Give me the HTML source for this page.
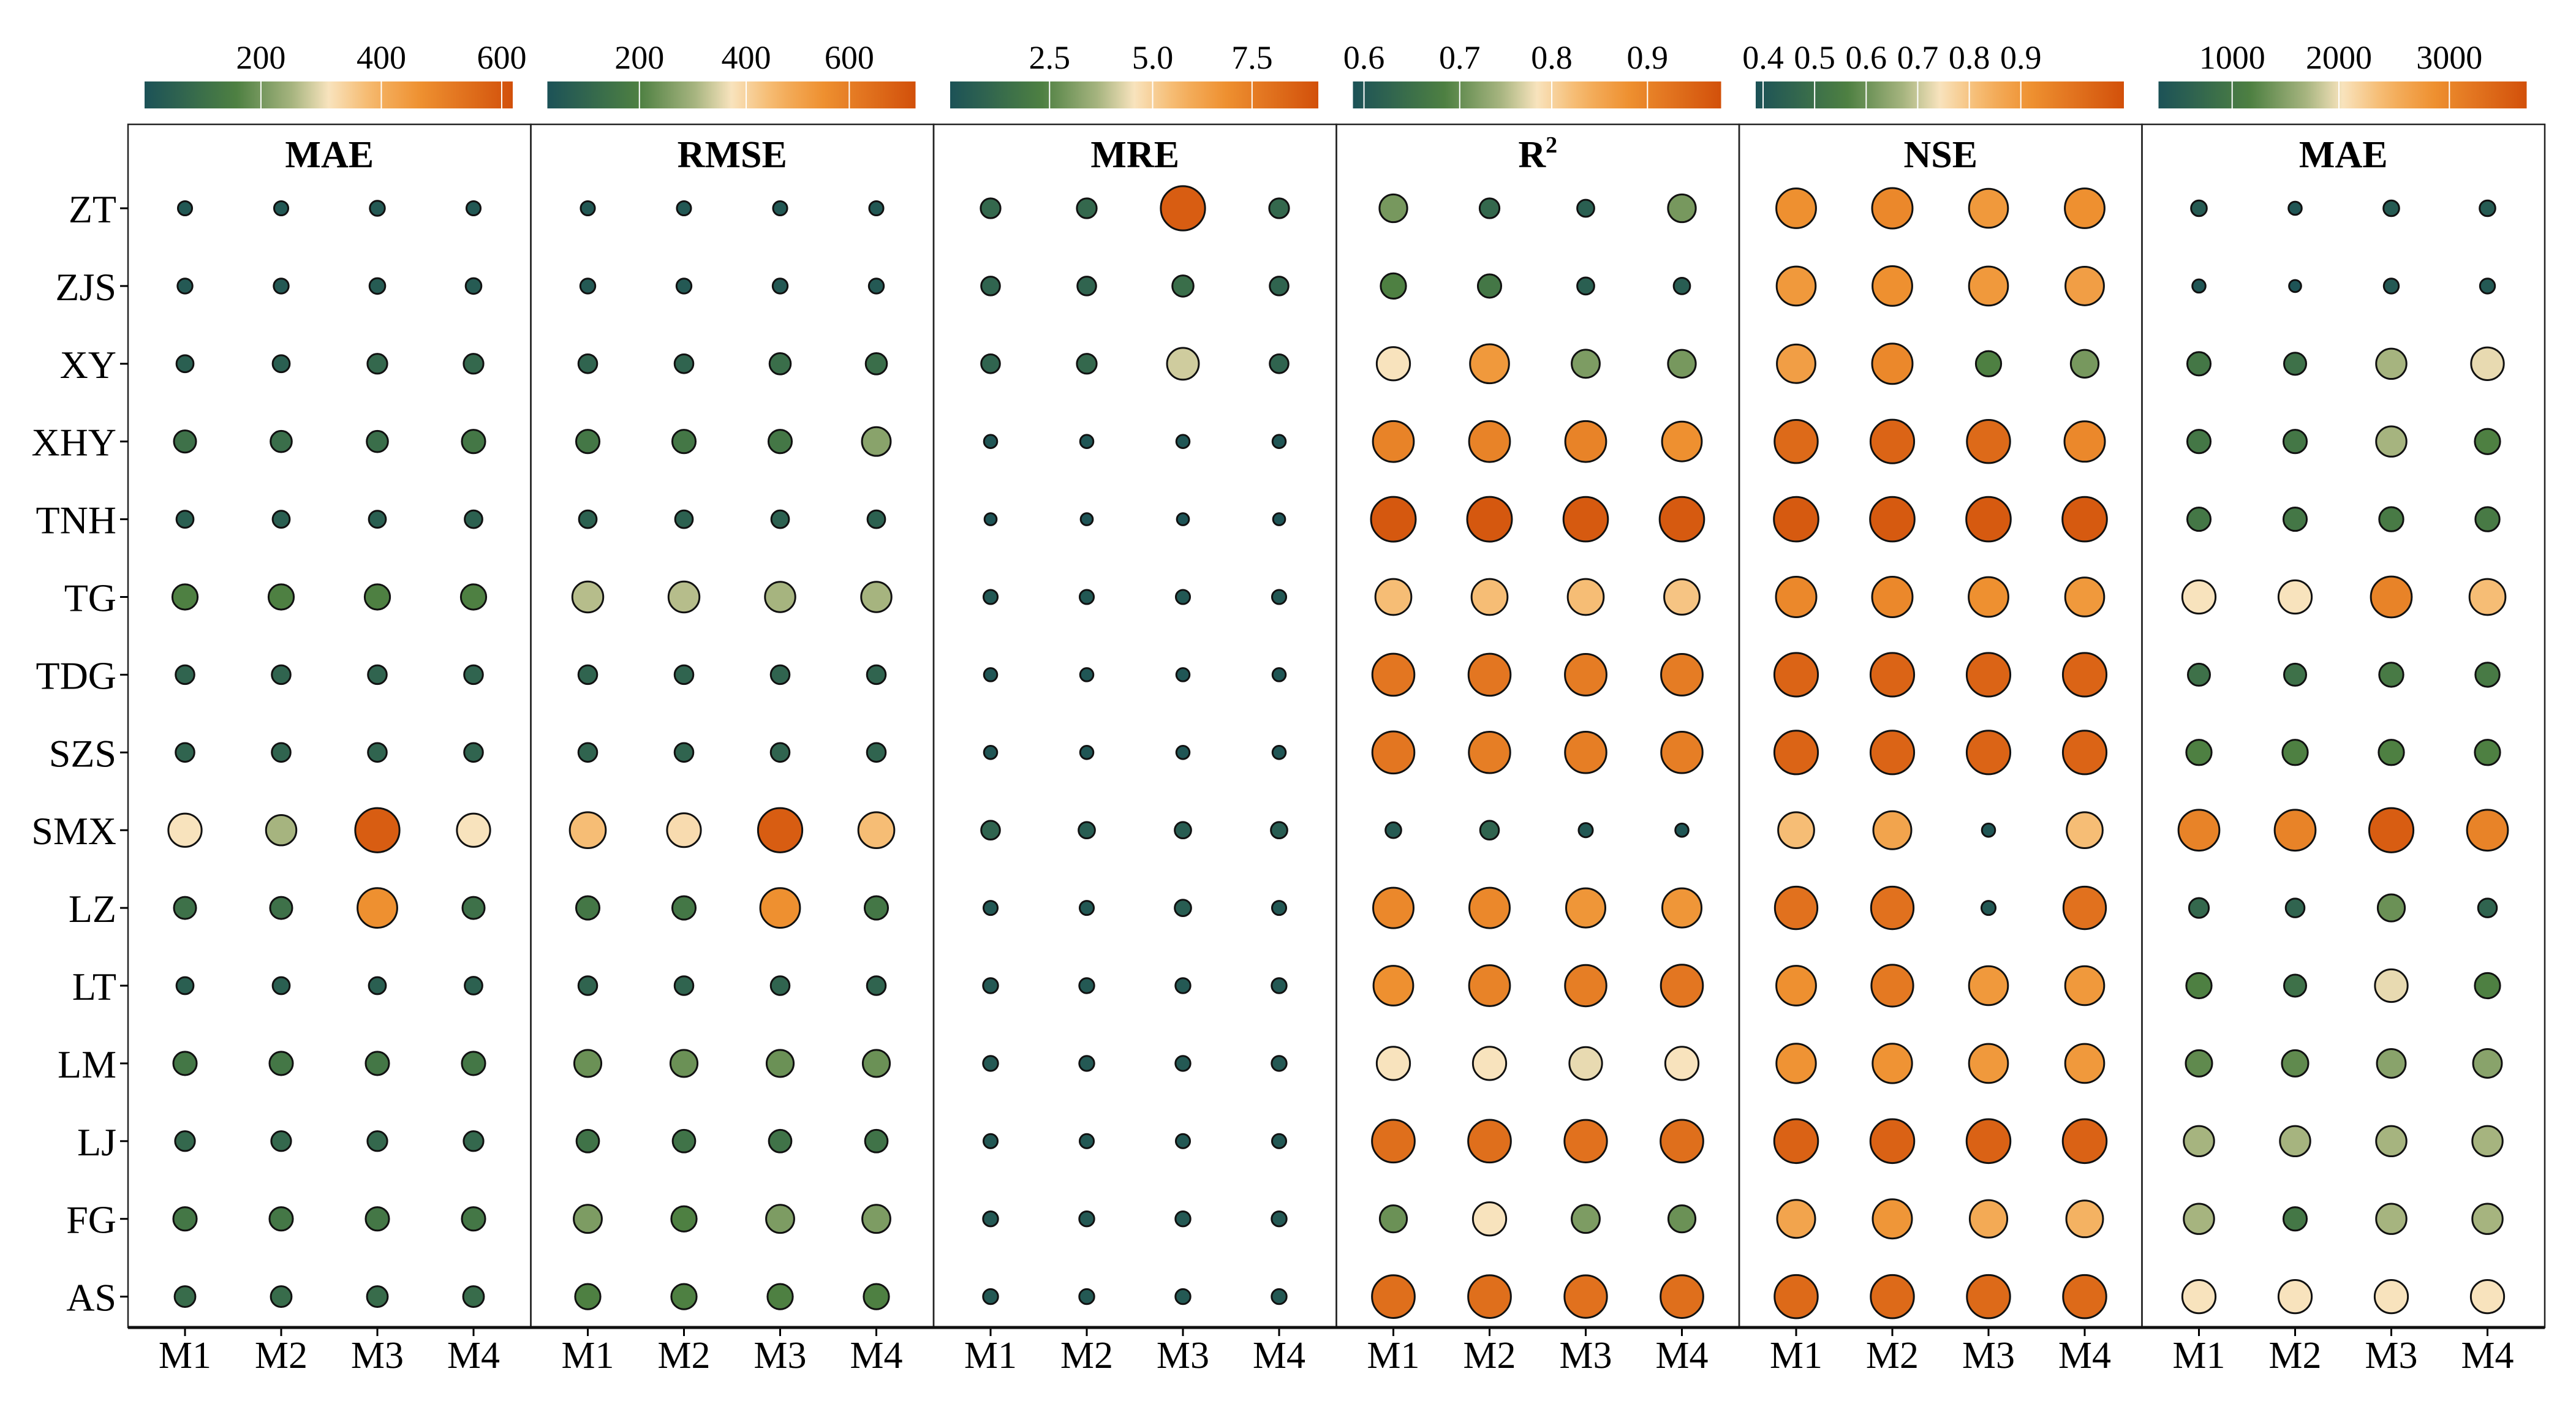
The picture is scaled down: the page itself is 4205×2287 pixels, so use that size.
<!DOCTYPE html>
<html><head><meta charset="utf-8"><style>html,body{margin:0;padding:0;background:#fff}svg{display:block}</style></head>
<body>
<svg id="s" xmlns="http://www.w3.org/2000/svg" width="4205" height="2287" viewBox="0 0 4205 2287" font-family="Liberation Serif, serif"></svg>
<script>
const NS="http://www.w3.org/2000/svg";const s=document.getElementById('s');
function el(t,a,txt){const e=document.createElementNS(NS,t);for(const k in a)e.setAttribute(k,a[k]);if(txt!==undefined)e.textContent=txt;s.appendChild(e);return e;}
const stops=[[0,[28,82,87]],[0.25,[78,128,66]],[0.4,[166,180,127]],[0.5,[248,227,189]],[0.62,[245,181,102]],[0.75,[238,144,48]],[1,[210,80,10]]];
function col(t){t=Math.max(0,Math.min(1,t));for(let i=1;i<stops.length;i++){if(t<=stops[i][0]){const a=stops[i-1],b=stops[i];const f=(t-a[0])/(b[0]-a[0]);return 'rgb('+a[1].map((v,j)=>Math.round(v+(b[1][j]-v)*f)).join(',')+')';}}return 'rgb(210,80,10)';}
const rows=["ZT","ZJS","XY","XHY","TNH","TG","TDG","SZS","SMX","LZ","LT","LM","LJ","FG","AS"];
const D=[
[[.03,.03,.04,.03],[.04,.04,.05,.05],[.07,.07,.12,.12],[.17,.15,.15,.2],[.07,.07,.07,.08],[.25,.25,.25,.25],[.1,.1,.1,.1],[.1,.1,.1,.1],[.5,.4,.95,.5],[.17,.17,.75,.17],[.07,.07,.07,.08],[.2,.2,.2,.2],[.12,.12,.12,.12],[.2,.2,.2,.2],[.14,.14,.14,.14]],
[[.03,.03,.03,.03],[.04,.04,.04,.04],[.1,.1,.15,.15],[.2,.2,.2,.35],[.08,.08,.08,.08],[.42,.42,.4,.4],[.1,.1,.1,.1],[.1,.1,.1,.1],[.6,.52,.95,.6],[.2,.2,.75,.2],[.1,.1,.1,.1],[.3,.3,.3,.3],[.18,.18,.18,.18],[.33,.25,.33,.33],[.25,.25,.25,.25]],
[[.12,.12,.95,.12],[.1,.1,.15,.1],[.1,.12,.45,.1],[.02,.02,.02,.02],[.01,.01,.01,.01],[.03,.03,.03,.03],[.02,.02,.02,.02],[.02,.02,.02,.02],[.1,.06,.06,.06],[.03,.03,.06,.03],[.04,.04,.04,.04],[.04,.04,.04,.04],[.03,.03,.03,.03],[.04,.04,.04,.04],[.04,.04,.04,.04]],
[[.32,.12,.07,.32],[.25,.2,.07,.06],[.5,.72,.33,.32],[.8,.8,.8,.75],[.97,.97,.96,.96],[.6,.6,.6,.58],[.85,.85,.83,.83],[.85,.82,.82,.82],[.05,.1,.03,.02],[.78,.78,.73,.73],[.75,.8,.82,.85],[.5,.5,.48,.5],[.88,.88,.87,.88],[.3,.5,.33,.3],[.88,.88,.87,.88]],
[[.75,.78,.72,.75],[.72,.75,.72,.7],[.7,.78,.25,.32],[.9,.92,.9,.78],[.96,.96,.96,.96],[.78,.78,.75,.72],[.92,.92,.92,.92],[.92,.92,.92,.92],[.6,.68,.02,.6],[.87,.87,.03,.87],[.75,.84,.72,.72],[.74,.74,.72,.72],[.93,.93,.93,.93],[.68,.73,.66,.63],[.9,.9,.9,.9]],
[[.05,.02,.05,.05],[.02,.01,.04,.04],[.2,.17,.4,.48],[.2,.2,.4,.25],[.2,.2,.22,.22],[.5,.5,.8,.6],[.17,.17,.22,.22],[.25,.25,.25,.25],[.8,.8,.95,.8],[.12,.1,.3,.1],[.25,.17,.48,.25],[.28,.28,.35,.35],[.4,.4,.4,.4],[.4,.2,.4,.4],[.5,.5,.5,.5]]];
const titles=["MAE","RMSE","MRE","R2","NSE","MAE"];
const ticks=[[[.316,"200"],[.643,"400"],[.97,"600"]],[[.25,"200"],[.54,"400"],[.82,"600"]],[[.27,"2.5"],[.55,"5.0"],[.82,"7.5"]],[[.03,"0.6"],[.29,"0.7"],[.54,"0.8"],[.8,"0.9"]],[[.02,"0.4"],[.16,"0.5"],[.30,"0.6"],[.44,"0.7"],[.58,"0.8"],[.72,"0.9"]],[[.2,"1000"],[.49,"2000"],[.79,"3000"]]];
const defs=el('defs',{});
const g=document.createElementNS(NS,'linearGradient');g.setAttribute('id','cg');
for(let i=0;i<=20;i++){const st=document.createElementNS(NS,'stop');st.setAttribute('offset',i/20);st.setAttribute('stop-color',col(i/20));g.appendChild(st);}
defs.appendChild(g);
const PW=657.5,P0=209,TOP=203,BOT=2167,offs=[93,250,407,564];
for(let p=0;p<6;p++){
 const x0=P0+p*PW;
 el('rect',{x:x0,y:TOP,width:PW,height:BOT-TOP,fill:'none',stroke:'#222','stroke-width':2.5});
 const bx=236+p*PW;
 el('rect',{x:bx,y:133,width:601,height:44,fill:'url(#cg)'});
 for(const [f,l] of ticks[p]){const tx=bx+f*601;el('line',{x1:tx,y1:133,x2:tx,y2:177,stroke:'#fff','stroke-width':2});el('text',{x:tx,y:112,'font-size':54,'text-anchor':'middle'},l);}
 if(titles[p]==="R2"){const t=el('text',{x:x0+PW/2,y:273,'font-size':62,'font-weight':'bold','text-anchor':'middle'},'R');const ts=document.createElementNS(NS,'tspan');ts.setAttribute('dy',-24);ts.setAttribute('font-size',38);ts.textContent='2';t.appendChild(ts);}
 else el('text',{x:x0+PW/2,y:273,'font-size':62,'font-weight':'bold','text-anchor':'middle'},titles[p]);
 for(let m=0;m<4;m++){const cx=x0+offs[m];el('line',{x1:cx,y1:BOT,x2:cx,y2:BOT+14,stroke:'#000','stroke-width':3});el('text',{x:cx,y:2233,'font-size':62,'text-anchor':'middle'},'M'+(m+1));}
 for(let r=0;r<15;r++){const cy=340+r*126.9;for(let m=0;m<4;m++){const t=D[p][r][m];const rad=8+29*Math.pow(t,0.6);el('circle',{cx:x0+offs[m],cy:cy,r:rad,fill:col(t),stroke:'#111','stroke-width':3});}}
}
el('line',{x1:P0,y1:BOT,x2:P0+6*PW,y2:BOT,stroke:'#111','stroke-width':5});
for(let r=0;r<15;r++){const cy=340+r*126.9;el('line',{x1:196,y1:cy,x2:P0,y2:cy,stroke:'#000','stroke-width':3});el('text',{x:190,y:cy+23,'font-size':64,'text-anchor':'end'},rows[r]);}
</script>
</body></html>
